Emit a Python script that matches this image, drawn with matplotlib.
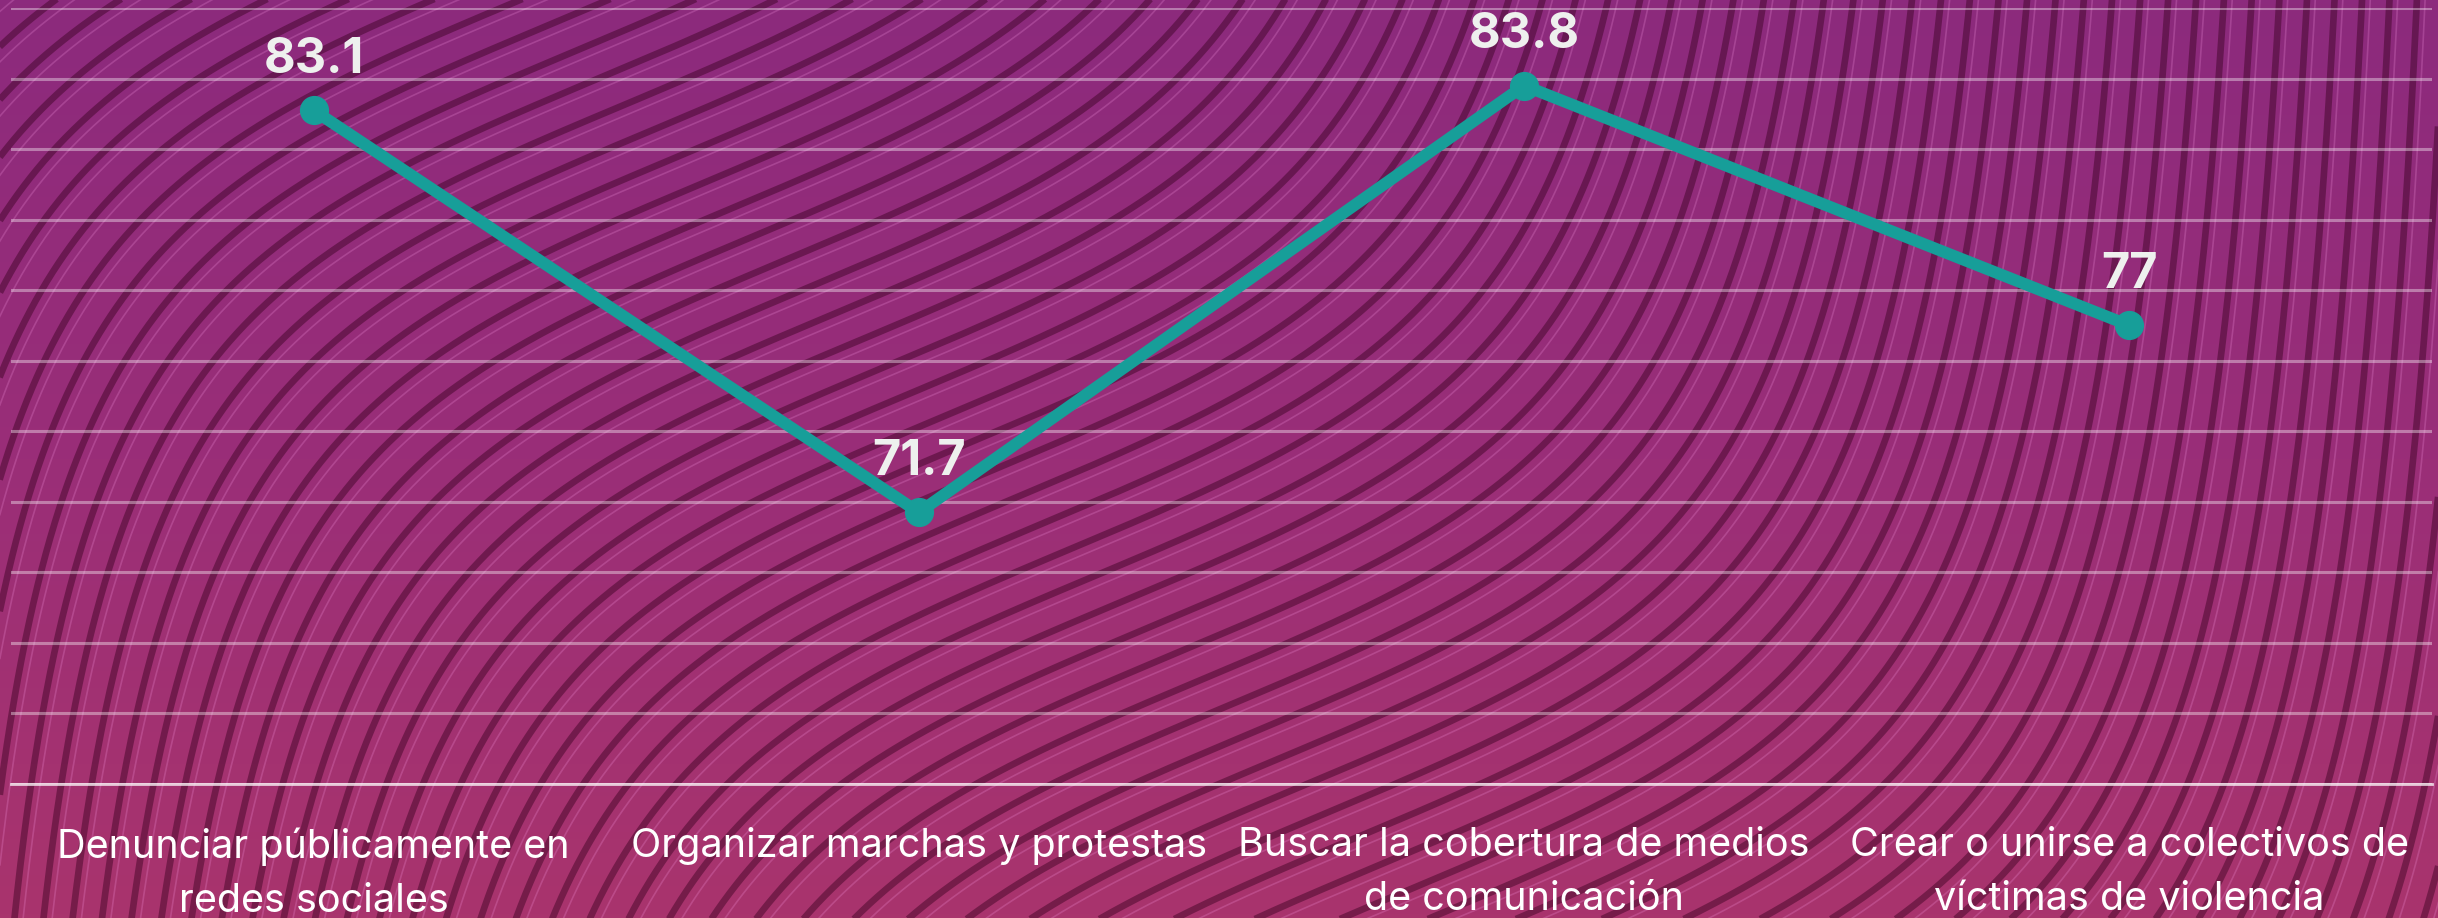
import numpy as np
import matplotlib
matplotlib.use("Agg")
import matplotlib.pyplot as plt
from matplotlib.colors import LinearSegmentedColormap

# data
categories = ["Denunciar públicamente en\nredes sociales",
              "Organizar marchas y protestas",
              "Buscar la cobertura de medios\nde comunicación",
              "Crear o unirse a colectivos de\nvíctimas de violencia"]
values = [83.1, 71.7, 83.8, 77]
value_labels = ["83.1", "71.7", "83.8", "77"]

W, H = 2438, 918
TEAL = "#179e99"

plt.rcParams['font.family'] = ['Inter', 'DejaVu Sans']

fig = plt.figure(figsize=(W / 100, H / 100), dpi=100)

# background: gradient + wavy line pattern
bg = fig.add_axes([0, 0, 1, 1])
grad_cmap = LinearSegmentedColormap.from_list("bg", ["#8c2a7d", "#9a2e78", "#a9346d"])
bg.imshow(np.linspace(0, 1, 256).reshape(-1, 1), cmap=grad_cmap, aspect="auto",
          extent=(0, W, H, 0), zorder=0)

P = 1350.0            # width of the tan-shaped wave
slope0 = 0.42         # slope in the flat part
A = slope0 * P / np.pi
x0, y0 = 520.0, 0.0
step = 37.0
d = np.array([1.0, 1.0]) / np.hypot(1.0, 1.0)
u = np.linspace(-P / 2 * 0.9995, P / 2 * 0.9995, 3000)
yy = -A * np.tan(np.pi * u / P)
keep = np.abs(yy) < 3500
u, yy = u[keep], yy[keep]
for t in range(-120, 120):
    ox = x0 + t * step * d[0]
    oy = y0 + t * step * d[1]
    xs = u + ox
    ys = yy + oy
    if xs.max() < -50 or xs.min() > W + 50:
        continue
    bg.plot(xs, ys, color=(0.22, 0.0, 0.12), alpha=0.45, lw=4.8,
            solid_capstyle="butt", zorder=1)
    bg.plot(xs + 0.3 * step * d[0], ys + 0.3 * step * d[1],
            color=(1.0, 0.62, 0.92), alpha=0.22, lw=1.2, zorder=1)
bg.set_xlim(0, W)
bg.set_ylim(H, 0)
bg.axis("off")

# main chart
ax = fig.add_axes([11 / W, (H - 784) / H, (2432 - 11) / W, 776 / H])
ax.patch.set_alpha(0)
x = np.arange(len(values))
ax.set_xlim(-0.5, len(values) - 0.5)
ax.set_ylim(64, 86)
ax.set_yticks(np.arange(64, 87, 2))
ax.yaxis.grid(True, color="white", alpha=0.38, lw=2.2)
ax.set_axisbelow(True)
for s in ["top", "right", "left"]:
    ax.spines[s].set_visible(False)
ax.spines["bottom"].set_color((1, 1, 1, 0.75))
ax.spines["bottom"].set_linewidth(2.0)
ax.tick_params(axis="y", left=False, labelleft=False)
ax.tick_params(axis="x", length=0, pad=31)
ax.set_xticks(x)
ax.set_xticklabels(categories, fontsize=28.5, color="white", linespacing=1.6)

ax.plot(x, values, color=TEAL, lw=8.5, marker="o", markersize=20, zorder=5,
        clip_on=False)
for xi, v, lab in zip(x, values, value_labels):
    ax.annotate(lab, (xi, v), xytext=(0, 27), textcoords="offset points",
                ha="center", va="baseline", fontsize=35, fontweight="bold",
                color="#eef0ee", zorder=6, annotation_clip=False)

fig.savefig("out.png", dpi=100)
